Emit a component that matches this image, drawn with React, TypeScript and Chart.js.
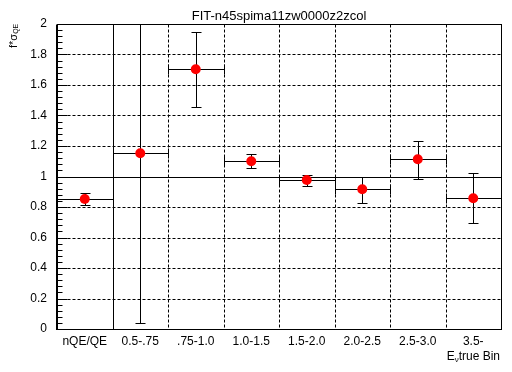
import React, { useEffect, useRef } from "react";
import { Chart, registerables } from "chart.js";

Chart.register(...registerables);

const title = "FIT-n45spima11zw0000z2zcol";
const categories = ["nQE/QE", "0.5-.75", ".75-1.0", "1.0-1.5", "1.5-2.0", "2.0-2.5", "2.5-3.0", "3.5-"];
const values = [0.852, 1.152, 1.703, 1.1, 0.977, 0.916, 1.113, 0.857];
const errLow = [0.811, 0.04, 1.453, 1.054, 0.94, 0.824, 0.982, 0.693];
const errHigh = [0.89, 2.26, 1.95, 1.15, 1.01, 0.999, 1.236, 1.021];
const yMin = 0;
const yMax = 2;
const yStep = 0.2;
const yMinorStep = 0.04;

const FONT = '"Liberation Sans", Arial, Helvetica, sans-serif';

const rootPlugin = {
  id: "rootStyle",
  beforeDatasetsDraw(chart: any) {
    const { ctx, chartArea: ca, scales } = chart;
    const x = scales.x;
    const y = scales.y;
    const px = (v: number) => Math.round(x.getPixelForValue(v)) + 0.5;
    const py = (v: number) => Math.round(y.getPixelForValue(v)) + 0.5;
    const L = Math.round(ca.left) + 0.5;
    const R = Math.round(ca.right) + 0.5;
    const T = Math.round(ca.top) + 0.5;
    const B = Math.round(ca.bottom) + 0.5;
    ctx.save();
    ctx.strokeStyle = "#000";
    ctx.lineWidth = 1;

    // dashed grid
    ctx.setLineDash([3, 2]);
    ctx.beginPath();
    for (let i = 2; i < categories.length; i++) {
      const xx = px(i);
      ctx.moveTo(xx, T);
      ctx.lineTo(xx, B);
    }
    const nMajor = Math.round((yMax - yMin) / yStep);
    for (let k = 1; k < nMajor; k++) {
      const v = yMin + k * yStep;
      if (Math.abs(v - 1) < 1e-6) continue;
      const yy = py(v);
      ctx.moveTo(L, yy);
      ctx.lineTo(R, yy);
    }
    ctx.stroke();
    ctx.setLineDash([]);

    // solid reference lines
    ctx.beginPath();
    ctx.moveTo(px(1), T);
    ctx.lineTo(px(1), B);
    ctx.moveTo(L, py(1));
    ctx.lineTo(R, py(1));
    ctx.stroke();

    // y ticks (inward)
    ctx.beginPath();
    const nMinor = Math.round((yMax - yMin) / yMinorStep);
    for (let k = 0; k <= nMinor; k++) {
      const v = yMin + k * yMinorStep;
      const yy = py(v);
      const len = k % 5 === 0 ? 10 : 5;
      ctx.moveTo(L, yy);
      ctx.lineTo(L + len, yy);
    }
    ctx.stroke();

    // frame
    ctx.strokeRect(L, T, R - L, B - T);
    ctx.beginPath();
    ctx.moveTo(L - 1, T);
    ctx.lineTo(L - 1, B + 0.5);
    ctx.stroke();

    // error bars
    ctx.save();
    ctx.beginPath();
    ctx.rect(ca.left, ca.top, ca.right - ca.left, ca.bottom - ca.top);
    ctx.clip();
    ctx.beginPath();
    values.forEach((v, i) => {
      const cx = px(i + 0.5);
      const cy = py(v);
      const x0 = px(i);
      const x1 = px(i + 1);
      // horizontal bar
      ctx.moveTo(x0, cy);
      ctx.lineTo(x1, cy);
      ctx.moveTo(x0, cy - 5);
      ctx.lineTo(x0, cy + 5);
      ctx.moveTo(x1, cy - 5);
      ctx.lineTo(x1, cy + 5);
      // vertical bar
      const yl = py(errLow[i]);
      const yh = py(errHigh[i]);
      ctx.moveTo(cx, yl);
      ctx.lineTo(cx, yh);
      ctx.moveTo(cx - 5, yl);
      ctx.lineTo(cx + 5, yl);
      ctx.moveTo(cx - 5, yh);
      ctx.lineTo(cx + 5, yh);
    });
    ctx.stroke();
    ctx.restore();
    ctx.restore();
  },
  afterDraw(chart: any) {
    const { ctx, chartArea: ca } = chart;
    ctx.save();
    ctx.fillStyle = "#000";
    // title
    ctx.font = `13px ${FONT}`;
    ctx.textAlign = "center";
    ctx.textBaseline = "alphabetic";
    ctx.fillText(title, (ca.left + ca.right) / 2, 20);

    // x axis title: E_nu true Bin (right aligned)
    const rightX = ca.right - 1;
    const baseY = 360;
    ctx.textAlign = "left";
    ctx.font = `12px ${FONT}`;
    const tail = "true Bin";
    const wTail = ctx.measureText(tail).width;
    const wE = ctx.measureText("E").width;
    ctx.font = `8px ${FONT}`;
    const wNu = ctx.measureText("ν").width;
    const sx = rightX - wTail - wNu - wE;
    ctx.font = `12px ${FONT}`;
    ctx.fillText("E", sx, baseY);
    ctx.font = `8px ${FONT}`;
    ctx.fillText("ν", sx + wE, baseY + 2);
    ctx.font = `12px ${FONT}`;
    ctx.fillText(tail, sx + wE + wNu, baseY);

    // y axis title: f*sigma_QE rotated
    ctx.save();
    ctx.translate(17, 48);
    ctx.rotate(-Math.PI / 2);
    ctx.font = `11px ${FONT}`;
    ctx.fillText("f*σ", 0, 0);
    const wf = ctx.measureText("f*σ").width;
    ctx.font = `7px ${FONT}`;
    ctx.fillText("QE", wf, 1);
    ctx.restore();

    ctx.restore();
  },
};

export default function App() {
  const ref = useRef<HTMLCanvasElement | null>(null);
  useEffect(() => {
    if (!ref.current) return;
    const chart = new Chart(ref.current, {
      type: "scatter",
      data: {
        datasets: [
          {
            data: values.map((v, i) => ({ x: i + 0.5, y: v })),
            backgroundColor: "#ff0000",
            borderColor: "#ff0000",
            borderWidth: 0,
            pointRadius: 5,
            pointHoverRadius: 5,
          },
        ],
      },
      options: {
        animation: false,
        responsive: false,
        devicePixelRatio: 1,
        layout: { padding: { top: 24, right: 11, left: 0, bottom: 0 } },
        plugins: {
          legend: { display: false },
          tooltip: { enabled: false },
          title: { display: false },
        },
        scales: {
          x: {
            type: "linear",
            min: 0,
            max: categories.length,
            afterBuildTicks: (s: any) => {
              s.ticks = categories.map((_, i) => ({ value: i + 0.5 }));
            },
            afterFit: (s: any) => {
              s.height = 43;
            },
            ticks: {
              autoSkip: false,
              maxRotation: 0,
              minRotation: 0,
              padding: 5,
              color: "#000",
              font: { family: FONT, size: 12 },
              callback: (_v: any, i: number) => categories[i],
            },
            grid: { display: false, drawTicks: false },
            border: { display: false },
          },
          y: {
            type: "linear",
            min: yMin,
            max: yMax,
            afterFit: (s: any) => {
              s.width = 57;
            },
            ticks: {
              stepSize: yStep,
              padding: 10,
              color: "#000",
              font: { family: FONT, size: 12 },
              callback: (v: any) => String(Math.round(Number(v) * 10) / 10),
            },
            grid: { display: false, drawTicks: false },
            border: { display: false },
          },
        },
      },
      plugins: [rootPlugin],
    } as any);
    return () => chart.destroy();
  }, []);
  return (
    <div style={{ position: "fixed", left: 0, top: 0, width: 512, height: 372, background: "#fff" }}>
      <canvas ref={ref} width={512} height={372} />
    </div>
  );
}
